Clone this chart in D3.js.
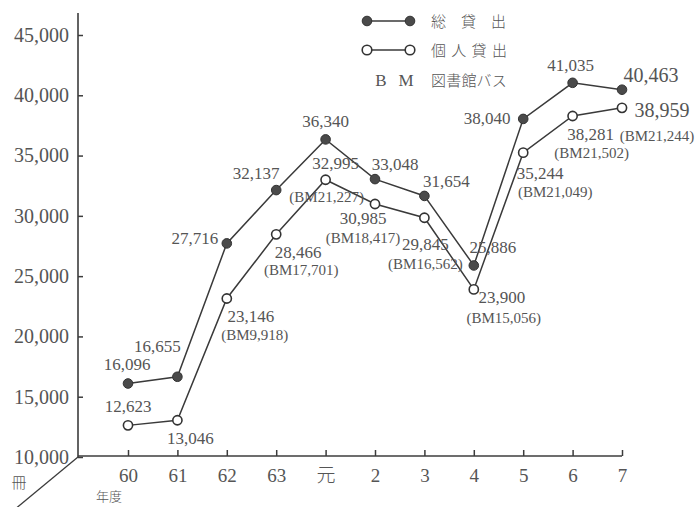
<!DOCTYPE html>
<html><head><meta charset="utf-8">
<script src="https://cdn.jsdelivr.net/npm/d3@7"></script>
<style>
body{margin:0;background:#fff;}
svg{display:block;background:#fff;}
text{font-family:"Liberation Serif","Noto Sans CJK JP",serif;fill:#555;}
</style></head>
<body>
<script>
// ---- data ----
const years = ["60","61","62","63","元","2","3","4","5","6","7"];
const totalLoans = [16096,16655,27716,32137,36340,33048,31654,25886,38040,41035,40463];
const personalLoans = [12623,13046,23146,28466,32995,30985,29845,23900,35244,38281,38959];
const bmLoans = [null,null,9918,17701,21227,18417,16562,15056,21049,21502,21244];
const yTicks = [10000,15000,20000,25000,30000,35000,40000,45000];
const legendLabels = ["総貸出","個人貸出","図書館バス"];
const legendBM = ["B","M"];
const unitLabel = "冊";
const xTitle = "年度";

// ---- label layout (offsets from the data point) ----
const totalOff = [[-1,-13],[-20,-25],[-32,1],[-20,-11],[0,-12],[20,-9],[22,-9],[19,-12],[-36,5],[-2,-12],[29,-8]];
const personalOff = [[0,-13],[13,24],[24,24],[22,24],[10,-11],[-12,20],[1,32],[28,14],[17,26],[18,24],[40,9]];
const bmOff = [null,null,[28,42],[25,41],[1,22],[-12,39],[1,51],[30,34],[32,44],[19,42],[35,33]];

const W = 697, H = 507;
const svg = d3.select("body").append("svg").attr("width", W).attr("height", H);

const x = d3.scalePoint().domain(years).range([128, 622]);
const y = d3.scaleLinear().domain([10000, 45000]).range([457, 35]);
const axisColor = "#3c3c3c";

// diagonal decoration
svg.append("line").attr("x1", 78).attr("y1", 457).attr("x2", 14).attr("y2", 510)
  .attr("stroke", axisColor).attr("stroke-width", 1.3);

// y axis
const gy = svg.append("g").attr("transform", "translate(78,0)")
  .call(d3.axisLeft(y).tickValues(yTicks).tickSize(-5).tickSizeOuter(0).tickPadding(9).tickFormat(d3.format(",")));
gy.select(".domain").remove();
gy.selectAll(".tick line").attr("stroke", axisColor).attr("stroke-width", 1.5);
gy.selectAll(".tick text").attr("font-size", 20).attr("fill", "#555")
  .style("font-family", "'Liberation Serif', serif");
svg.append("line").attr("x1", 78).attr("x2", 78).attr("y1", 13).attr("y2", 457)
  .attr("stroke", axisColor).attr("stroke-width", 1.6);

// x axis
const gx = svg.append("g").attr("transform", "translate(0,456)")
  .call(d3.axisBottom(x).tickSize(-6).tickSizeOuter(0).tickPadding(13));
gx.select(".domain").remove();
gx.selectAll(".tick line").attr("stroke", axisColor).attr("stroke-width", 1.5);
gx.selectAll(".tick text").attr("font-size", 19).attr("fill", "#555")
  .style("font-family", d => d === "元" ? "'Noto Sans CJK JP', sans-serif" : "'Liberation Serif', serif")
  .attr("font-weight", d => d === "元" ? 300 : null);
svg.append("line").attr("x1", 78).attr("x2", x("7")).attr("y1", 456).attr("y2", 456)
  .attr("stroke", axisColor).attr("stroke-width", 1.6);

svg.append("text").attr("x", 19).attr("y", 488).attr("text-anchor", "middle")
  .attr("font-size", 15).style("font-family", "'Noto Sans CJK JP', sans-serif").attr("font-weight", 300).text(unitLabel);
svg.append("text").attr("x", 109).attr("y", 501).attr("text-anchor", "middle")
  .attr("font-size", 13).style("font-family", "'Noto Sans CJK JP', sans-serif").attr("font-weight", 300).text(xTitle);

// lines
const line = d3.line().x((d, i) => x(years[i])).y(d => y(d));
svg.append("path").datum(totalLoans).attr("d", line).attr("fill", "none")
  .attr("stroke", "#3a3a3a").attr("stroke-width", 1.5);
svg.append("path").datum(personalLoans).attr("d", line).attr("fill", "none")
  .attr("stroke", "#3a3a3a").attr("stroke-width", 1.5);

// markers
svg.append("g").selectAll("circle").data(totalLoans).join("circle")
  .attr("cx", (d, i) => x(years[i])).attr("cy", d => y(d)).attr("r", 4.8)
  .attr("fill", "#4a4a4a").attr("stroke", "#333").attr("stroke-width", 1);
svg.append("g").selectAll("circle").data(personalLoans).join("circle")
  .attr("cx", (d, i) => x(years[i])).attr("cy", d => y(d)).attr("r", 4.6)
  .attr("fill", "#fff").attr("stroke", "#333").attr("stroke-width", 1.6);

// value labels
const fmt = d3.format(",");
const lastIdx = years.length - 1;
svg.append("g").selectAll("text").data(totalLoans).join("text")
  .attr("x", (d, i) => x(years[i]) + totalOff[i][0])
  .attr("y", (d, i) => y(d) + totalOff[i][1])
  .attr("text-anchor", "middle")
  .attr("font-size", (d, i) => i === lastIdx ? 20 : 17)
  .text(d => fmt(d));
svg.append("g").selectAll("text").data(personalLoans).join("text")
  .attr("x", (d, i) => x(years[i]) + personalOff[i][0])
  .attr("y", (d, i) => y(d) + personalOff[i][1])
  .attr("text-anchor", "middle")
  .attr("font-size", (d, i) => i === lastIdx ? 20 : 17)
  .text(d => fmt(d));
svg.append("g").selectAll("text").data(bmLoans.map((v, i) => ({v, i})).filter(d => d.v != null)).join("text")
  .attr("x", d => x(years[d.i]) + bmOff[d.i][0])
  .attr("y", d => y(personalLoans[d.i]) + bmOff[d.i][1])
  .attr("text-anchor", "middle")
  .attr("font-size", 15)
  .text(d => "(BM" + fmt(d.v) + ")");

// legend
const lg = svg.append("g");
[0, 1].forEach(k => {
  const ly = k === 0 ? 21 : 50;
  lg.append("line").attr("x1", 367).attr("x2", 410).attr("y1", ly).attr("y2", ly)
    .attr("stroke", "#3a3a3a").attr("stroke-width", 1.5);
  [367, 410].forEach(cx => lg.append("circle").attr("cx", cx).attr("cy", ly).attr("r", 4.8)
    .attr("fill", k === 0 ? "#4a4a4a" : "#fff").attr("stroke", "#333").attr("stroke-width", k === 0 ? 1 : 1.6));
});
legendBM.forEach((t, k) => lg.append("text").attr("x", k === 0 ? 381 : 406).attr("y", 86)
  .attr("text-anchor", "middle").attr("font-size", 17).text(t));
const spacing = [15, 5.3, 0.2];
const ys = [27, 56, 86];
legendLabels.forEach((t, k) => {
  lg.append("text").attr("x", 431).attr("y", ys[k]).attr("font-size", 15)
    .style("font-family", "'Noto Sans CJK JP', sans-serif").attr("font-weight", 300)
    .attr("letter-spacing", spacing[k]).text(t);
});
</script>
</body></html>
